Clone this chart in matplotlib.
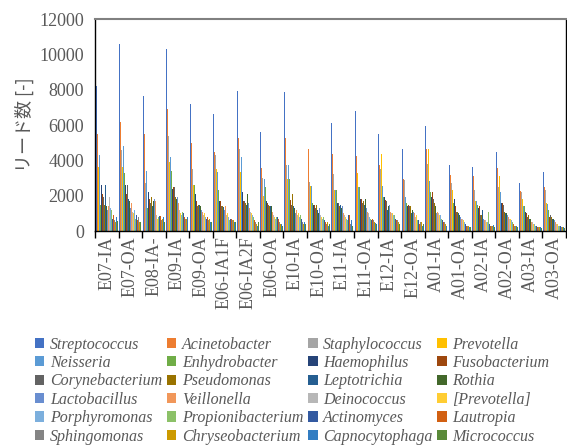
import matplotlib
matplotlib.use('Agg')
import matplotlib.pyplot as plt
import numpy as np

plt.rcParams['font.family'] = ['Liberation Serif', 'Noto Sans CJK JP', 'DejaVu Sans']

samples = ['E07-IA', 'E07-OA', 'E08-IA-', 'E09-IA', 'E09-OA', 'E06-IA1F', 'E06-IA2F',
           'E06-OA', 'E10-IA', 'E10-OA', 'E11-IA', 'E11-OA', 'E12-IA', 'E12-OA',
           'A01-IA', 'A01-OA', 'A02-IA', 'A02-OA', 'A03-IA', 'A03-OA']

genera = ['Streptococcus', 'Acinetobacter', 'Staphylococcus', 'Prevotella',
          'Neisseria', 'Enhydrobacter', 'Haemophilus', 'Fusobacterium',
          'Corynebacterium', 'Pseudomonas', 'Leptotrichia', 'Rothia',
          'Lactobacillus', 'Veillonella', 'Deinococcus', '[Prevotella]',
          'Porphyromonas', 'Propionibacterium', 'Actinomyces', 'Lautropia',
          'Sphingomonas', 'Chryseobacterium', 'Capnocytophaga', 'Micrococcus']

colors = ['#4472C4', '#ED7D31', '#A5A5A5', '#FFC000', '#5B9BD5', '#70AD47',
          '#264478', '#9E480E', '#636363', '#997300', '#255E91', '#43682B',
          '#698ED0', '#F1975A', '#B7B7B7', '#FFCD33', '#7CAFDD', '#8CC168',
          '#335AA1', '#D26012', '#848484', '#CC9A00', '#327DC2', '#5A8A39']

# read counts per sample (one value per genus, in legend order)
e07_ia = [8200, 5500, 3900, 3600, 4300, 1500, 2600, 2100, 1900, 1500, 2600, 1400,
          1200, 1400, 1900, 1000, 1300, 1200, 700, 900, 600, 500, 800, 550]
e07_oa = [10600, 6200, 4600, 3600, 4800, 3300, 2600, 2100, 2600, 1900, 1800, 1700,
          1300, 1600, 1100, 1000, 1200, 700, 900, 600, 800, 500, 700, 500]
e08_ia = [7650, 5500, 2700, 1900, 3400, 1300, 2200, 1800, 1600, 1900, 1400, 1700,
          1800, 1700, 900, 700, 600, 800, 850, 850, 600, 700, 800, 500]
e09_ia = [10300, 6900, 5400, 3900, 4200, 3400, 2400, 2500, 2500, 1900, 1700, 1800,
          1900, 1600, 1200, 1000, 900, 1100, 1000, 800, 700, 700, 800, 800]
e09_oa = [7200, 5000, 3500, 2600, 3100, 2600, 2100, 1700, 1400, 1500, 1500, 1400,
          1200, 1100, 900, 1000, 800, 600, 700, 800, 600, 700, 500, 500]
e06_ia1f = [6650, 4500, 4300, 3500, 3350, 2300, 1700, 1700, 1400, 1400, 1350, 1300,
            1200, 1400, 900, 1000, 800, 600, 700, 700, 600, 600, 500, 500]
e06_ia2f = [7950, 5250, 4650, 3350, 4200, 2900, 2200, 1700, 1700, 1600, 1500, 2100,
            1600, 1300, 1100, 1000, 900, 800, 700, 600, 500, 400, 300, 500]
e06_oa = [5600, 3550, 3000, 2000, 2950, 2500, 1700, 1600, 1500, 1400, 1400, 1400,
          1000, 1100, 900, 800, 700, 800, 800, 700, 500, 400, 400, 300]
e10_ia = [7900, 5250, 3750, 2950, 3750, 2950, 1850, 1750, 1500, 2100, 1400, 1300,
          1000, 1200, 900, 1000, 800, 900, 700, 600, 500, 400, 500, 400]
e10_oa = [6300, 4650, 2800, 2550, 2550, 1600, 1500, 1500, 1300, 1500, 1200, 1000,
          1300, 1100, 900, 800, 700, 800, 600, 500, 400, 500, 300, 400]
e11_ia = [6100, 4350, 3250, 2300, 2300, 2300, 1600, 1500, 1600, 1400, 1500, 1300,
          1400, 1000, 900, 800, 700, 600, 900, 900, 400, 500, 600, 300]
e11_oa = [6800, 4250, 3500, 3300, 2500, 2500, 1800, 1800, 1600, 1700, 1500, 1800,
          1300, 1100, 1000, 900, 800, 700, 600, 700, 600, 500, 450, 400]
e12_ia = [5500, 3750, 3500, 4350, 2550, 1900, 1900, 1750, 1700, 1700, 1200, 1400,
          1500, 1100, 1000, 1000, 900, 900, 700, 600, 600, 500, 400, 400]
e12_oa = [4650, 2950, 2900, 3950, 1950, 1600, 1400, 1500, 1400, 1400, 1000, 1200,
          1100, 1000, 800, 900, 700, 600, 600, 400, 500, 500, 300, 400]
a01_ia = [5950, 4650, 3800, 4650, 2850, 2200, 1950, 2200, 1800, 1600, 1700, 1400,
          1000, 1100, 1000, 900, 900, 700, 600, 500, 500, 400, 300, 400]
a01_oa = [3750, 3200, 2700, 2300, 1800, 1600, 1800, 1400, 1100, 1100, 1000, 900,
          800, 700, 700, 600, 500, 400, 400, 300, 300, 300, 200, 250]
a02_ia = [3650, 3100, 2300, 1700, 1700, 1500, 1300, 1400, 900, 900, 1200, 800,
          700, 600, 600, 500, 500, 1100, 400, 300, 300, 300, 350, 250]
a02_oa = [4450, 3550, 2500, 3100, 2200, 1600, 1600, 1600, 1500, 1100, 1000, 1000,
          900, 800, 700, 700, 600, 500, 500, 400, 300, 300, 300, 200]
a03_ia = [2700, 2250, 2200, 1800, 1400, 1400, 1100, 1000, 800, 900, 700, 700,
          600, 500, 500, 400, 400, 300, 300, 250, 250, 200, 200, 150]
a03_oa = [3350, 2500, 2300, 1600, 1550, 1200, 1300, 800, 900, 800, 700, 700,
          600, 500, 400, 400, 300, 300, 300, 250, 200, 200, 200, 150]

counts = np.array([e07_ia, e07_oa, e08_ia, e09_ia, e09_oa, e06_ia1f, e06_ia2f,
                   e06_oa, e10_ia, e10_oa, e11_ia, e11_oa, e12_ia, e12_oa,
                   a01_ia, a01_oa, a02_ia, a02_oa, a03_ia, a03_oa])

gray = '#595959'
fs = 13

fig = plt.figure(figsize=(5.67, 4.46), dpi=100)
ax = fig.add_axes([0.1675, 0.482, 0.8305, 0.475])

n = len(genera)
width = 1 / (n + 1.5)
x = np.arange(len(samples)) + 0.5
handles = []
for i in range(n):
    pos = x - 0.5 + 0.75 * width + i * width + width / 2
    h = ax.bar(pos, counts[:, i], width, color=colors[i], linewidth=0, label=genera[i])
    handles.append(h)

ax.set_xlim(0, len(samples))
ax.set_ylim(0, 12000)
ax.set_yticks(range(0, 12001, 2000))
ax.tick_params(axis='y', length=0, labelsize=fs, labelcolor=gray, pad=8)
ax.set_xticks(range(len(samples) + 1))
ax.set_xticklabels([])
ax.set_xticks(x, minor=True)
ax.set_xticklabels(samples, minor=True, rotation=90, fontsize=fs, color=gray)
ax.tick_params(axis='x', which='major', length=5, width=1, color='black', direction='out')
ax.tick_params(axis='x', which='minor', length=0, pad=4)

for s in ['left', 'bottom', 'right']:
    ax.spines[s].set_color('black')
    ax.spines[s].set_linewidth(1)
ax.spines['top'].set_color('#808080')
ax.spines['top'].set_linewidth(1.5)

ax.set_ylabel('リード数 [-]', fontsize=fs, color=gray, family=['Noto Sans CJK JP', 'DejaVu Sans'], labelpad=4)

# legend filled row by row like the original
order = [j + 4 * r for j in range(4) for r in range(6)]
leg = fig.legend([handles[k] for k in order], [genera[k] for k in order],
                 loc='upper center', bbox_to_anchor=(0.515, 1 - 327 / 446), ncol=4,
                 frameon=False, prop={'style': 'italic', 'size': 11.5},
                 handlelength=0.6, handleheight=0.6, handletextpad=0.35,
                 columnspacing=0.3, labelspacing=0.15, borderpad=0.1)
for t in leg.get_texts():
    t.set_color(gray)

fig.savefig('out.png', dpi=100)
